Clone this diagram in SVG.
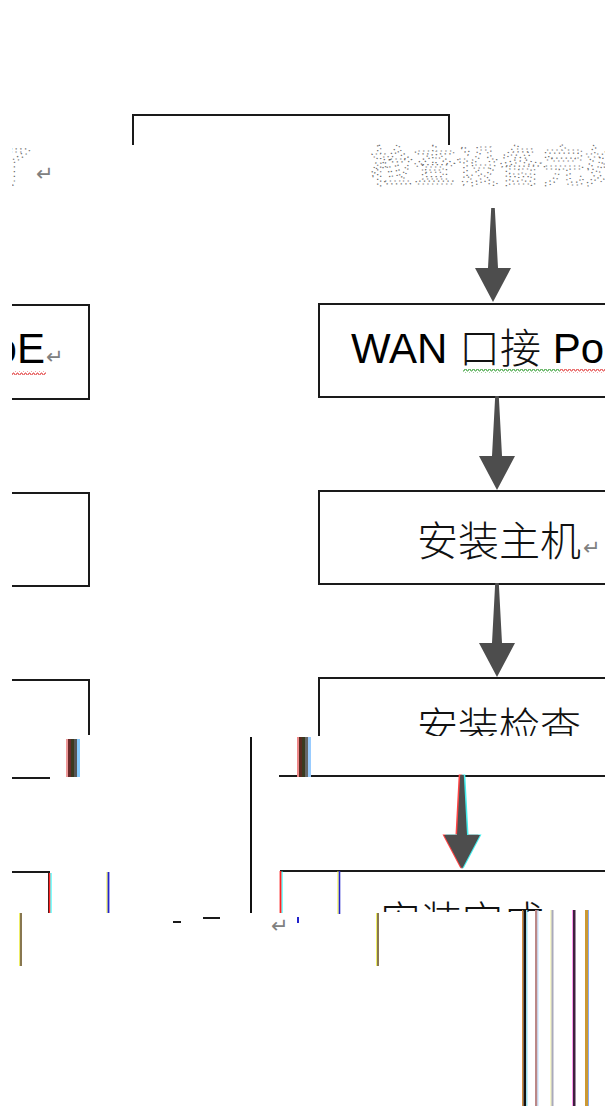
<svg xmlns="http://www.w3.org/2000/svg" width="605" height="1106" viewBox="0 0 605 1106">
<style>
.box{fill:none;stroke:#1a1a1a;stroke-width:2}
.ln{stroke:#1a1a1a;stroke-width:2;fill:none}
.lat{font-family:"Liberation Sans",Arial,sans-serif;font-size:42px;fill:#000}
.cjk{font-family:"Noto Sans CJK SC","Noto Sans CJK JP",sans-serif;font-size:41px;fill:#111;font-weight:300}
.garb{font-family:"Noto Sans CJK SC",sans-serif;font-size:43px;fill:none;stroke:#666;stroke-width:1.2;stroke-dasharray:1.2 3.5}
.pm{font-family:"DejaVu Sans",sans-serif;font-size:21px;fill:#808080}
.arr{fill:#4d4d4d}
</style>
<defs>
<clipPath id="page"><rect x="12" y="0" width="593" height="1106"/></clipPath>
<clipPath id="cut736"><rect x="0" y="0" width="605" height="736"/></clipPath>
<clipPath id="cut912"><rect x="0" y="880" width="605" height="32"/></clipPath>
<path id="arrow" d="M-1.8,-94 L1.8,-94 L5,-34 L18,-34 L0,0 L-18,-34 L-5,-34 Z"/>
<pattern id="wavyR" width="4" height="4" patternUnits="userSpaceOnUse"><polyline points="0,3 1,1 2,1 3,3 4,3" fill="none" stroke="#e03030" stroke-width="0.9"/></pattern>
<pattern id="wavyG" width="4" height="4" patternUnits="userSpaceOnUse"><polyline points="0,3 1,1 2,1 3,3 4,3" fill="none" stroke="#2a9a2a" stroke-width="0.9"/></pattern>
</defs>
<g clip-path="url(#page)">
<g id="n-top">
<polyline class="ln" points="133,145 133,115 449,115 449,145"/>
<text class="garb" x="-9" y="182">了</text>
<text class="pm" x="36" y="181">↵</text>
<text class="garb" x="370" y="182">检查设备完好</text>
</g>
<g id="n-left1">
<rect class="box" x="-10" y="305" width="99" height="94"/>
<text class="lat" x="45" y="363" text-anchor="end">PPPoE</text>
<text class="pm" x="46" y="364">↵</text>
<rect x="12" y="371" width="34" height="4" fill="url(#wavyR)"/>
</g>
<g id="n-wan">
<rect class="box" x="319" y="304" width="300" height="93"/>
<text x="351" y="363"><tspan class="lat">WAN </tspan><tspan class="cjk" font-size="40">口接</tspan><tspan class="lat"> Po</tspan></text>
<rect x="463" y="369" width="97" height="4" fill="url(#wavyG)"/>
<rect x="560" y="369" width="45" height="4" fill="url(#wavyR)"/>
</g>
<g id="n-left2">
<rect class="box" x="-10" y="493" width="99" height="93"/>
</g>
<g id="n-host">
<rect class="box" x="319" y="491" width="300" height="93"/>
<text class="cjk" x="417" y="556">安装主机</text>
<text class="pm" x="583" y="555">↵</text>
</g>
<g id="n-left3">
<polyline class="ln" points="10,680 89,680 89,735"/>
<line class="ln" x1="10" y1="778" x2="50" y2="778"/>
<rect x="66" y="739" width="2" height="38" fill="#e99"/>
<rect x="68" y="739" width="3" height="38" fill="#6a2a2a"/>
<rect x="71" y="739" width="3" height="38" fill="#3a3a20"/>
<rect x="74" y="739" width="3" height="38" fill="#555"/>
<rect x="77" y="739" width="3" height="38" fill="#8cf"/>
</g>
<g id="n-check">
<polyline class="ln" points="319,736 319,678 610,678"/>
<line class="ln" x1="279" y1="776" x2="610" y2="776"/>
<g clip-path="url(#cut736)">
<text class="cjk" x="417" y="742">安装检查</text>
</g>
<rect x="297" y="737" width="2" height="40" fill="#e88"/>
<rect x="299" y="737" width="3" height="40" fill="#5a2a20"/>
<rect x="302" y="737" width="3" height="40" fill="#3a3a20"/>
<rect x="305" y="737" width="3" height="40" fill="#666"/>
<rect x="308" y="737" width="3" height="40" fill="#9cf"/>
</g>
<g id="n-left4">
<polyline class="ln" points="10,872 49,872 49,913"/>
<line x1="51" y1="873" x2="51" y2="913" stroke="#0ff" stroke-width="1"/>
<line x1="49.5" y1="873" x2="49.5" y2="913" stroke="#f22" stroke-width="1.5"/>
<line x1="107" y1="872" x2="107" y2="913" stroke="#ee3" stroke-width="1"/>
<line x1="108.5" y1="872" x2="108.5" y2="913" stroke="#22c" stroke-width="1.8"/>
<line x1="19.5" y1="913" x2="19.5" y2="966" stroke="#ee6" stroke-width="1"/>
<line x1="21" y1="913" x2="21" y2="966" stroke="#887750" stroke-width="2"/>
<line class="ln" x1="203" y1="918" x2="220" y2="918"/>
<line class="ln" x1="173" y1="922" x2="181" y2="922" stroke-width="1.5"/>
<text class="pm" x="271" y="933" fill="#a66">↵</text>
</g>
<g id="n-done">
<line class="ln" x1="280" y1="871" x2="610" y2="871"/>
<line x1="282" y1="871" x2="282" y2="913" stroke="#0ff" stroke-width="1"/>
<line x1="280.5" y1="871" x2="280.5" y2="913" stroke="#f22" stroke-width="1.8"/>
<line x1="338" y1="871" x2="338" y2="914" stroke="#ee3" stroke-width="1"/>
<line x1="339.5" y1="871" x2="339.5" y2="914" stroke="#22c" stroke-width="1.6"/>
<line x1="376.5" y1="913" x2="376.5" y2="966" stroke="#ee6" stroke-width="1"/>
<line x1="378" y1="913" x2="378" y2="966" stroke="#887750" stroke-width="2"/>
<g clip-path="url(#cut912)">
<text class="cjk" x="380" y="936">安装完成</text>
</g>
<rect x="297" y="917" width="2" height="6" fill="#22c"/>
<rect x="522" y="910" width="1.5" height="196" fill="#d08a3a"/>
<rect x="523.5" y="910" width="2.5" height="196" fill="#111"/>
<rect x="526" y="910" width="1.5" height="196" fill="#9de"/>
<rect x="535" y="910" width="2.5" height="196" fill="#b88"/>
<rect x="537.5" y="910" width="1" height="196" fill="#bdf"/>
<rect x="550.5" y="910" width="1" height="196" fill="#ee9"/>
<rect x="551.5" y="910" width="2" height="196" fill="#aab"/>
<rect x="572" y="910" width="1" height="196" fill="#f9e"/>
<rect x="573" y="910" width="2.5" height="196" fill="#402040"/>
<rect x="585" y="910" width="3" height="196" fill="#c93"/>
<rect x="588" y="910" width="1" height="196" fill="#8ae"/>
</g>
<g id="connectors">
<line x1="251" y1="737" x2="251" y2="913" stroke="#111" stroke-width="2"/>
<use href="#arrow" class="arr" transform="translate(493,302)"/>
<use href="#arrow" class="arr" transform="translate(497,490)"/>
<use href="#arrow" class="arr" transform="translate(497,677)"/>
<use href="#arrow" fill="#f44" transform="translate(460.5,868.5)"/>
<use href="#arrow" fill="#4ee" transform="translate(463.5,868.5)"/>
<use href="#arrow" class="arr" transform="translate(462,869)"/>
</g>
</g>
</svg>
